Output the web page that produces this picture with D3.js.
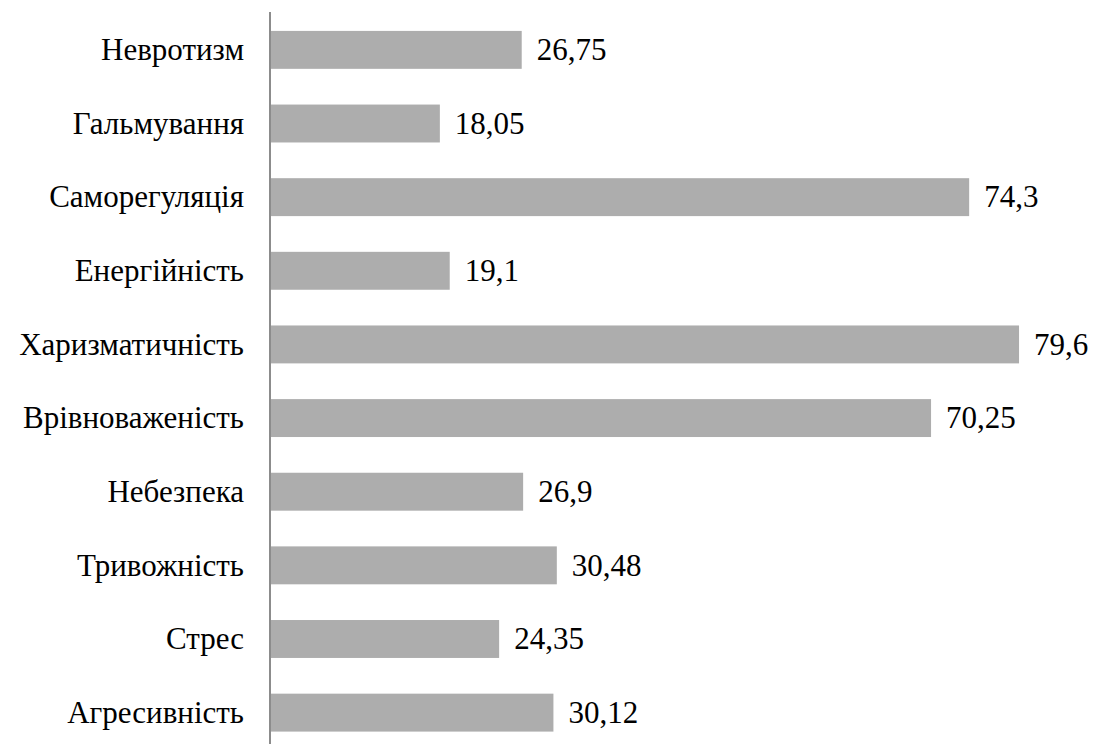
<!DOCTYPE html>
<html><head><meta charset="utf-8">
<script src="https://cdn.jsdelivr.net/npm/d3@7"></script>
<style>body{margin:0;background:#fff}svg{display:block}
text{font-family:"Liberation Serif","DejaVu Serif","Noto Serif","FreeSerif","Times New Roman",Times,Georgia,serif;}</style>
</head><body>
<script>
const categories = ["Невротизм","Гальмування","Саморегуляція","Енергійність","Харизматичність","Врівноваженість","Небезпека","Тривожність","Стрес","Агресивність"];
const values = [26.75,18.05,74.3,19.1,79.6,70.25,26.9,30.48,24.35,30.12];
const valueLabels = ["26,75","18,05","74,3","19,1","79,6","70,25","26,9","30,48","24,35","30,12"];

const W=1095,H=744;
const svg=d3.select("body").append("svg").attr("width",W).attr("height",H);
const x=d3.scaleLinear().domain([0,80]).range([270,1022.8]);
const y=d3.scaleBand().domain(categories).range([12.5,750]).paddingInner(0.485).paddingOuter(0.25);
const fs=31;
svg.selectAll("rect.bar").data(values).join("rect")
  .attr("x",x(0)).attr("y",(d,i)=>y(categories[i]))
  .attr("width",d=>x(d)-x(0)).attr("height",y.bandwidth())
  .attr("fill","#adadad");
svg.append("line").attr("x1",x(0)).attr("x2",x(0)).attr("y1",12).attr("y2",744)
  .attr("stroke","#8c8c8c").attr("stroke-width",2);
svg.selectAll("text.cat").data(categories).join("text")
  .attr("x",244).attr("y",d=>y(d)+y.bandwidth()/2).attr("dy","0.33em")
  .attr("text-anchor","end")
  .style("font-size",fs+"px").attr("fill","#000").text(d=>d);
svg.selectAll("text.val").data(values).join("text")
  .attr("x",d=>x(d)+15).attr("y",(d,i)=>y(categories[i])+y.bandwidth()/2).attr("dy","0.33em")
  .style("font-size",fs+"px").attr("fill","#000").text((d,i)=>valueLabels[i]);
</script>
</body></html>
